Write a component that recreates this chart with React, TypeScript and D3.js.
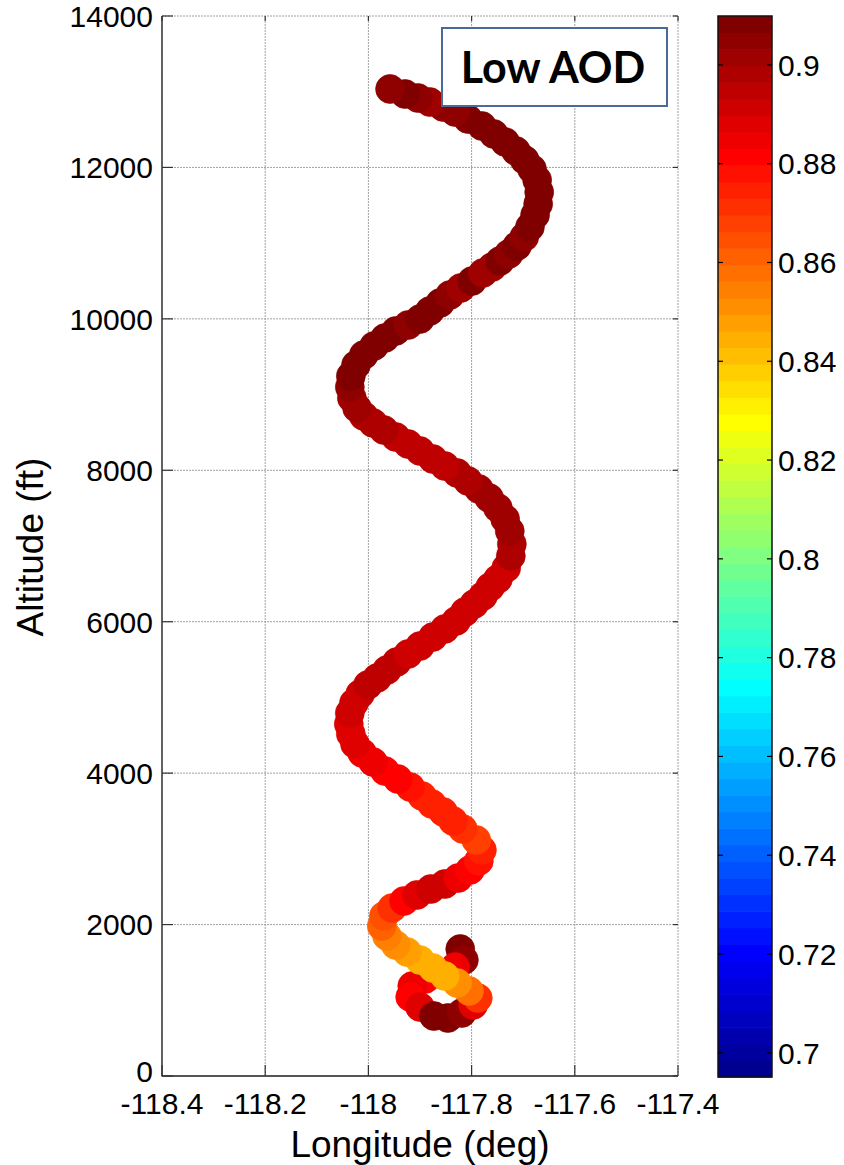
import React from 'react';
import * as d3 from 'd3';

// flight track, ascending order (low loop first, top of spiral last)
const lon = [
  -117.822, -117.815, -117.832, -117.861, -117.890, -117.915, -117.919, -117.900, -117.873, -117.846,
  -117.819, -117.797, -117.788, -117.805, -117.828, -117.852, -117.875, -117.900, -117.925, -117.947,
  -117.964, -117.974, -117.970, -117.954, -117.931, -117.906, -117.879, -117.852, -117.826, -117.803,
  -117.786, -117.780, -117.791, -117.817, -117.836, -117.855, -117.877, -117.896, -117.919, -117.943,
  -117.968, -117.991, -118.012, -118.026, -118.034, -118.038, -118.036, -118.028, -118.016, -118.001,
  -117.983, -117.964, -117.945, -117.923, -117.900, -117.875, -117.852, -117.830, -117.813, -117.795,
  -117.778, -117.764, -117.749, -117.733, -117.724, -117.722, -117.726, -117.735, -117.749, -117.766,
  -117.786, -117.807, -117.828, -117.852, -117.875, -117.900, -117.923, -117.947, -117.970, -117.991,
  -118.009, -118.022, -118.032, -118.036, -118.034, -118.024, -118.009, -117.989, -117.968, -117.947,
  -117.923, -117.900, -117.881, -117.861, -117.842, -117.821, -117.799, -117.778, -117.760, -117.745,
  -117.728, -117.712, -117.698, -117.687, -117.677, -117.671, -117.669, -117.673, -117.683, -117.697,
  -117.714, -117.735, -117.757, -117.780, -117.807, -117.832, -117.855, -117.881, -117.904, -117.929,
  -117.958,
];

const alt = [
  1677, 1532, 1440, 1347, 1281, 1189, 1043, 911, 792, 766,
  832, 938, 1030, 1123, 1228, 1321, 1426, 1532, 1638, 1730,
  1849, 1981, 2113, 2219, 2311, 2391, 2470, 2536, 2615, 2721,
  2840, 2985, 3117, 3262, 3368, 3487, 3593, 3698, 3817, 3923,
  4028, 4147, 4266, 4385, 4517, 4649, 4794, 4926, 5045, 5164,
  5257, 5362, 5468, 5574, 5679, 5798, 5904, 6010, 6128, 6234,
  6340, 6458, 6564, 6709, 6868, 7026, 7198, 7357, 7502, 7634,
  7753, 7859, 7964, 8057, 8149, 8255, 8347, 8440, 8532, 8625,
  8717, 8823, 8955, 9100, 9245, 9391, 9523, 9642, 9747, 9840,
  9919, 9998, 10104, 10209, 10315, 10408, 10500, 10606, 10685, 10764,
  10857, 10962, 11081, 11213, 11372, 11517, 11675, 11834, 11979, 12098,
  12217, 12336, 12442, 12547, 12640, 12732, 12798, 12864, 12917, 12970,
  13036,
];

const aod = [
  0.908, 0.906, 0.884, 0.882, 0.883, 0.884, 0.881, 0.888, 0.908, 0.908,
  0.905, 0.887, 0.870, 0.858, 0.850, 0.846, 0.844, 0.846, 0.849, 0.852,
  0.856, 0.861, 0.865, 0.870, 0.882, 0.887, 0.891, 0.890, 0.886, 0.881,
  0.878, 0.873, 0.869, 0.871, 0.873, 0.874, 0.875, 0.876, 0.878, 0.881,
  0.883, 0.884, 0.886, 0.887, 0.887, 0.889, 0.890, 0.891, 0.893, 0.895,
  0.895, 0.895, 0.894, 0.892, 0.891, 0.891, 0.891, 0.891, 0.891, 0.891,
  0.891, 0.891, 0.891, 0.893, 0.897, 0.898, 0.901, 0.901, 0.901, 0.900,
  0.900, 0.899, 0.897, 0.896, 0.895, 0.894, 0.894, 0.896, 0.897, 0.897,
  0.899, 0.900, 0.902, 0.904, 0.907, 0.908, 0.908, 0.908, 0.908, 0.908,
  0.905, 0.907, 0.908, 0.907, 0.904, 0.901, 0.907, 0.901, 0.903, 0.907,
  0.905, 0.908, 0.905, 0.908, 0.908, 0.908, 0.908, 0.908, 0.908, 0.908,
  0.908, 0.908, 0.908, 0.908, 0.907, 0.905, 0.904, 0.901, 0.904, 0.907,
  0.905,
];

const lonTicks = [-118.4, -118.2, -118, -117.8, -117.6, -117.4];
const altTicks = [0, 2000, 4000, 6000, 8000, 10000, 12000, 14000];
const cbarTicks = [0.7, 0.72, 0.74, 0.76, 0.78, 0.8, 0.82, 0.84, 0.86, 0.88, 0.9];
const cRange = [0.6951, 0.9099];

// MATLAB jet(m)
function jet(m: number): string[] {
  const n = Math.ceil(m / 4);
  const u: number[] = [];
  for (let i = 1; i <= n; i++) u.push(i / n);
  for (let i = 1; i < n; i++) u.push(1);
  for (let i = n; i >= 1; i--) u.push(i / n);
  const off = Math.ceil(n / 2) - (m % 4 === 1 ? 1 : 0);
  const J = Array.from({ length: m }, () => [0, 0, 0]);
  u.forEach((v, i) => {
    const g = off + i + 1;
    const r = g + n;
    const b = g - n;
    if (r <= m) J[r - 1][0] = v;
    if (g <= m) J[g - 1][1] = v;
    if (b >= 1) J[b - 1][2] = v;
  });
  return J.map(([r, g, b]) => d3.rgb(r * 255, g * 255, b * 255).formatHex());
}

const W = 844;
const H = 1165;
const font = '"Liberation Sans", Arial, Helvetica, sans-serif';

export default function App() {
  const x = d3.scaleLinear().domain([-118.4, -117.4]).range([162, 678]);
  const y = d3.scaleLinear().domain([0, 14000]).range([1076, 16]);
  const cmap = jet(64);
  const color = d3.scaleQuantize<string>().domain(cRange).range(cmap);
  const cy = d3.scaleLinear().domain(cRange).range([1077, 16]);
  const cbX0 = 718;
  const cbX1 = 772;
  const band = d3.scaleBand<number>().domain(d3.range(64)).range([1077, 16]);

  const pts = lon.map((d, i) => ({ lon: d, alt: alt[i], v: aod[i] }));
  const [x0, x1] = x.range();
  const [y0, y1] = y.range();

  return (
    <svg width={W} height={H} style={{ position: 'absolute', left: 0, top: 0, background: '#fff' }}>
      <rect width={W} height={H} fill="#fff" />
      {/* grid */}
      <g stroke="#a0a0a0" strokeWidth={1} strokeDasharray="2,1">
        {lonTicks.map((t) => (
          <line key={'gx' + t} x1={x(t)} x2={x(t)} y1={y0} y2={y1} />
        ))}
        {altTicks.map((t) => (
          <line key={'gy' + t} x1={x0} x2={x1} y1={y(t)} y2={y(t)} />
        ))}
      </g>

      {/* markers */}
      <g>
        {pts.map((p, i) => (
          <circle key={i} cx={x(p.lon)} cy={y(p.alt)} r={14.5} fill={color(p.v)} stroke={color(p.v)} strokeWidth={0.6} />
        ))}
      </g>

      {/* axes */}
      <g stroke="#333" strokeWidth={1.2}>
        <line x1={x0} x2={x0} y1={y0 + 0.5} y2={y1} stroke="#555" strokeWidth={1.8} />
        <line x1={x0} x2={x1} y1={y0} y2={y0} stroke="#555" strokeWidth={1.8} />
        {lonTicks.map((t) => (
          <g key={'tx' + t}>
            <line x1={x(t)} x2={x(t)} y1={y0} y2={y0 - 11} />
            <line x1={x(t)} x2={x(t)} y1={y1} y2={y1 + 5} />
          </g>
        ))}
        {altTicks.map((t) => (
          <g key={'ty' + t}>
            <line x1={x0} x2={x0 + 11} y1={y(t)} y2={y(t)} />
            <line x1={x1} x2={x1 - 5} y1={y(t)} y2={y(t)} />
          </g>
        ))}
      </g>
      <g fontFamily={font} fontSize={30} fill="#000">
        {lonTicks.map((t) => (
          <text key={'lx' + t} x={x(t)} y={1114} textAnchor="middle">
            {d3.format('')(t).replace('−', '-')}
          </text>
        ))}
        {altTicks.map((t) => (
          <text key={'ly' + t} x={153} y={y(t) - (t === 0 ? 5 : 0)} dy="0.36em" textAnchor="end">
            {t}
          </text>
        ))}
      </g>
      <text x={420} y={1157} textAnchor="middle" fontFamily={font} fontSize={37}>
        Longitude (deg)
      </text>
      <text
        transform="translate(43,547) rotate(-90)"
        textAnchor="middle"
        fontFamily={font}
        fontSize={37}
      >
        Altitude (ft)
      </text>

      {/* annotation */}
      <rect x={442} y={28} width={225} height={78} fill="#fff" stroke="#4a6b9a" strokeWidth={2} />
      <text x={553} y={83} textAnchor="middle" fontFamily="Lato, 'Open Sans', sans-serif" fontWeight="bold" fontSize={43}>
        Low AOD
      </text>

      {/* colorbar */}
      <g>
        {cmap.map((c, i) => (
          <rect key={'cb' + i} x={cbX0} y={band(i)} width={cbX1 - cbX0} height={band.bandwidth() + 0.6} fill={c} />
        ))}
        <rect x={cbX0} y={16} width={cbX1 - cbX0} height={1061} fill="none" stroke="#111" strokeWidth={1.5} />
        {cbarTicks.map((t) => (
          <g key={'ct' + t}>
            <line x1={cbX0} x2={cbX0 + 5} y1={cy(t)} y2={cy(t)} stroke="#000" strokeWidth={1.2} />
            <line x1={cbX1} x2={cbX1 - 5} y1={cy(t)} y2={cy(t)} stroke="#000" strokeWidth={1.2} />
            <text x={778} y={cy(t)} dy="0.36em" fontFamily={font} fontSize={30}>
              {t}
            </text>
          </g>
        ))}
      </g>
    </svg>
  );
}
